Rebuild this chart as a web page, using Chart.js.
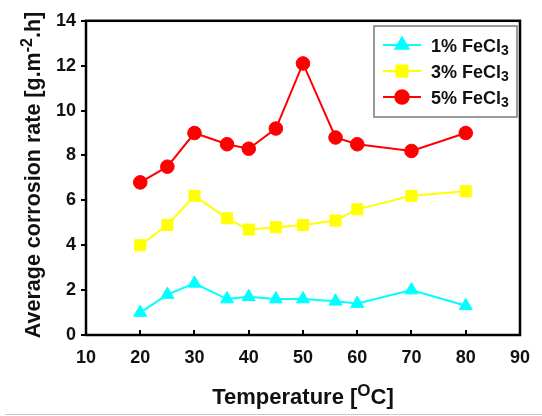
<!DOCTYPE html>
<html>
<head>
<meta charset="utf-8">
<script src="https://cdn.jsdelivr.net/npm/chart.js@4"></script>
<style>
html,body{margin:0;padding:0;background:#fff;}
#wrap{width:542px;height:416px;position:relative;}
</style>
</head>
<body>
<div id="wrap"><canvas id="c" width="542" height="416"></canvas></div>
<script>
// ---- data ----
const temperatures = [20, 25, 30, 36, 40, 45, 50, 56, 60, 70, 80];
const fecl1 = [1.0, 1.8, 2.3, 1.6, 1.7, 1.6, 1.6, 1.5, 1.4, 2.0, 1.3];
const fecl3 = [4.0, 4.9, 6.2, 5.2, 4.7, 4.8, 4.9, 5.1, 5.6, 6.2, 6.4];
const fecl5 = [6.8, 7.5, 9.0, 8.5, 8.3, 9.2, 12.1, 8.8, 8.5, 8.2, 9.0];
const seriesLabels = ['1% FeCl_3', '3% FeCl_3', '5% FeCl_3'];
const xTitle = 'Temperature [^O C]';
const yTitle = 'Average corrosion rate [g.m^-2 .h]';
const xTicks = [10, 20, 30, 40, 50, 60, 70, 80, 90];
const yTicks = [0, 2, 4, 6, 8, 10, 12, 14];

const FONT = '"Liberation Sans", Arial, sans-serif';

function pts(vals){ return temperatures.map((t,i)=>({x:t,y:vals[i]})); }

// parse simple markup: _token subscript, ^token superscript (token ends at space)
function parseRich(s){
  const segs=[]; let buf=''; let i=0;
  while(i<s.length){
    const ch=s[i];
    if(ch==='_'||ch==='^'){
      if(buf){segs.push({t:buf,k:'n'});buf='';}
      let j=i+1, tok='';
      while(j<s.length && s[j]!==' '){tok+=s[j];j++;}
      segs.push({t:tok,k:ch==='_'?'sub':'sup'});
      i=j+1;
    } else {buf+=ch;i++;}
  }
  if(buf)segs.push({t:buf,k:'n'});
  return segs;
}
function richWidth(ctx,segs,size){
  let w=0;
  for(const s of segs){
    ctx.font='bold '+(s.k==='n'?size:Math.round(size*0.75))+'px '+FONT;
    w+=ctx.measureText(s.t).width;
  }
  return w;
}
function drawRich(ctx,segs,x,y,size){
  let cx=x;
  ctx.textBaseline='alphabetic';
  ctx.textAlign='left';
  for(const s of segs){
    const fs = s.k==='n'?size:Math.round(size*0.75);
    ctx.font='bold '+fs+'px '+FONT;
    let dy=0;
    if(s.k==='sub') dy=size*0.22;
    if(s.k==='sup') dy=-size*0.38;
    ctx.fillText(s.t,cx,y+dy);
    cx+=ctx.measureText(s.t).width;
  }
}

const decor = {
  id:'decor',
  afterDraw(chart){
    const ctx=chart.ctx, a=chart.chartArea;
    const xs=chart.scales.x, ys=chart.scales.y;
    ctx.save();
    // frame
    ctx.strokeStyle='#000'; ctx.lineWidth=2.5;
    ctx.strokeRect(a.left,a.top,a.right-a.left,a.bottom-a.top);
    // x ticks (inside)
    ctx.lineWidth=2;
    for(const v of xTicks){
      const px=Math.round(xs.getPixelForValue(v));
      ctx.beginPath(); ctx.moveTo(px,a.bottom); ctx.lineTo(px,a.bottom-5); ctx.stroke();
    }
    // y ticks (outside)
    for(const v of yTicks){
      const py=Math.round(ys.getPixelForValue(v));
      ctx.beginPath(); ctx.moveTo(a.left,py); ctx.lineTo(a.left-5,py); ctx.stroke();
    }
    // titles
    ctx.fillStyle='#111';
    const xs2=parseRich(xTitle);
    const xw=richWidth(ctx,xs2,22);
    drawRich(ctx,xs2,(a.left+a.right)/2-xw/2,404,22);
    const ys2=parseRich(yTitle);
    const yw=richWidth(ctx,ys2,21.5);
    ctx.save();
    ctx.translate(40,175);
    ctx.rotate(-Math.PI/2);
    drawRich(ctx,ys2,-yw/2,0,21.5);
    ctx.restore();
    // legend
    const lx=374, ly=26, lw=143, lh=91;
    ctx.fillStyle='#fff'; ctx.fillRect(lx,ly,lw,lh);
    ctx.strokeStyle='#7a7a7a'; ctx.lineWidth=1.5;
    ctx.strokeRect(lx,ly,lw,lh);
    const rows=[45,71,97];
    chart.data.datasets.forEach((ds,i)=>{
      const y=rows[i];
      ctx.strokeStyle=ds.borderColor; ctx.lineWidth=2;
      ctx.beginPath(); ctx.moveTo(383,y); ctx.lineTo(421,y); ctx.stroke();
      ctx.fillStyle=ds.pointBackgroundColor; ctx.strokeStyle=ds.pointBorderColor;
      Chart.helpers.drawPoint(ctx,{pointStyle:ds.pointStyle,radius:ds.pointRadius,rotation:0,borderWidth:1},402,y);
      ctx.fillStyle='#111';
      drawRich(ctx,parseRich(ds.label),431,y+6.5,18);
    });
    // bottom separator line
    ctx.strokeStyle='#c8c8c8'; ctx.lineWidth=1;
    ctx.beginPath(); ctx.moveTo(5,414.5); ctx.lineTo(542,414.5); ctx.stroke();
    ctx.restore();
  }
};

const colors=['#00ffff','#ffff00','#ff0000'];
const styles=['triangle','rect','circle'];
const radii=[7.5,7.8,6.8];
const seriesData=[fecl1,fecl3,fecl5];

new Chart(document.getElementById('c'),{
  type:'line',
  data:{
    datasets: seriesData.map((d,i)=>({
      label:seriesLabels[i],
      data:pts(d),
      borderColor:colors[i],
      backgroundColor:colors[i],
      pointBackgroundColor:colors[i],
      pointBorderColor:colors[i],
      pointBorderWidth:1,
      pointStyle:styles[i],
      pointRadius:radii[i],
      borderWidth:2,
      tension:0
    }))
  },
  options:{
    responsive:false,
    animation:false,
    devicePixelRatio:1,
    layout:{padding:{left:0,right:20,top:20,bottom:0}},
    plugins:{legend:{display:false},tooltip:{enabled:false}},
    scales:{
      x:{
        type:'linear',min:10,max:90,
        afterBuildTicks(s){ s.ticks = xTicks.map(v=>({value:v})); },
        grid:{display:false,drawTicks:false},
        border:{display:false},
        ticks:{color:'#111',font:{family:FONT,weight:'bold',size:18},padding:12,maxRotation:0,autoSkip:false},
        afterFit(s){ s.height=81; }
      },
      y:{
        min:0,max:14,
        afterBuildTicks(s){ s.ticks = yTicks.map(v=>({value:v})); },
        grid:{display:false,drawTicks:false},
        border:{display:false},
        ticks:{color:'#111',font:{family:FONT,weight:'bold',size:18},padding:10},
        afterFit(s){ s.width=86; }
      }
    }
  },
  plugins:[decor]
});
</script>
</body>
</html>
